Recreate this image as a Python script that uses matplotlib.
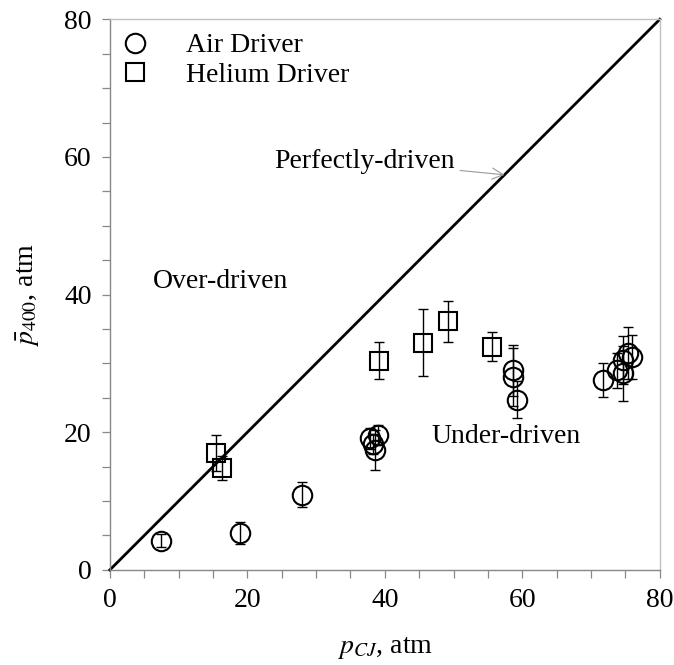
import matplotlib
matplotlib.use('Agg')
from matplotlib import pyplot as plt
from matplotlib.ticker import MultipleLocator

plt.rcParams['font.family'] = ['Liberation Serif', 'DejaVu Serif']
plt.rcParams['mathtext.fontset'] = 'stix'

# Air driver shots
air_pcj = [7.4, 18.9, 28.0, 37.8, 38.3, 38.5, 39.0, 58.7, 58.6, 59.2,
           71.8, 73.7, 74.7, 75.4, 75.9, 74.7]
air_p400 = [4.25, 5.35, 10.9, 19.1, 18.3, 17.4, 19.6, 29.0, 28.05, 24.7,
            27.6, 29.0, 30.5, 31.5, 31.0, 28.6]
air_err = [0.9, 1.65, 1.8, 1.5, 1.5, 2.9, 1.5, 3.7, 4.2, 2.7,
           2.45, 2.5, 3.5, 3.8, 3.2, 4.0]

# Helium driver shots
he_pcj = [15.4, 16.3, 39.2, 45.5, 49.2, 55.6]
he_p400 = [17.0, 14.8, 30.4, 33.0, 36.1, 32.4]
he_err = [2.6, 1.7, 2.65, 4.85, 3.0, 2.1]

line = [0, 80]

fig = plt.figure(figsize=(6.74, 6.65), dpi=100)
ax = fig.add_axes([0.163, 0.143, 0.816, 0.828])

ax.plot(line, line, color='black', lw=2.0, clip_on=False, zorder=2)

ax.errorbar(air_pcj, air_p400, yerr=air_err, fmt='none', ecolor='black',
            elinewidth=1.0, capsize=3.4, capthick=1.0, zorder=3)
ax.errorbar(he_pcj, he_p400, yerr=he_err, fmt='none', ecolor='black',
            elinewidth=1.0, capsize=3.4, capthick=1.0, zorder=3)
ax.plot(air_pcj, air_p400, 'o', ms=14, mfc='none', mec='black', mew=1.5,
        label='Air Driver', zorder=4)
ax.plot(he_pcj, he_p400, 's', ms=12.3, mfc='none', mec='black', mew=1.5,
        label='Helium Driver', zorder=4)

ax.set_xlim(0, 80)
ax.set_ylim(0, 80)
ax.xaxis.set_major_locator(MultipleLocator(20))
ax.yaxis.set_major_locator(MultipleLocator(20))
ax.xaxis.set_minor_locator(MultipleLocator(5))
ax.yaxis.set_minor_locator(MultipleLocator(5))
ax.tick_params(which='both', direction='out', length=6, width=0.9,
               color='#888888', labelsize=20, pad=7)
ax.tick_params(which='both', top=False, right=False)

ax.spines['left'].set_color('#888888')
ax.spines['bottom'].set_color('#888888')
ax.spines['top'].set_color('#c0c0c0')
ax.spines['right'].set_color('#c0c0c0')
for s in ax.spines.values():
    s.set_linewidth(1.0)

ax.set_xlabel(r'$p_{CJ}$, atm', fontsize=20, labelpad=16)
ax.set_ylabel(r'$\bar{p}_{\mathrm{400}}$, atm', fontsize=20, labelpad=16)

ax.text(6.3, 41.9, 'Over-driven', fontsize=20, ha='left', va='center')
ax.text(46.8, 19.4, 'Under-driven', fontsize=20, ha='left', va='center')
ax.annotate('Perfectly-driven', xy=(57.4, 57.4), xytext=(37.0, 59.4),
            fontsize=20, ha='center', va='center',
            arrowprops=dict(arrowstyle='->', color='#999999', lw=0.8,
                            shrinkA=2, shrinkB=0))

ax.legend(loc='upper left', bbox_to_anchor=(0.02, 0.975), frameon=False,
          fontsize=20, borderaxespad=0, borderpad=0, handlelength=1.0,
          handletextpad=1.35, labelspacing=0.15)

fig.savefig('out.png', dpi=100)
